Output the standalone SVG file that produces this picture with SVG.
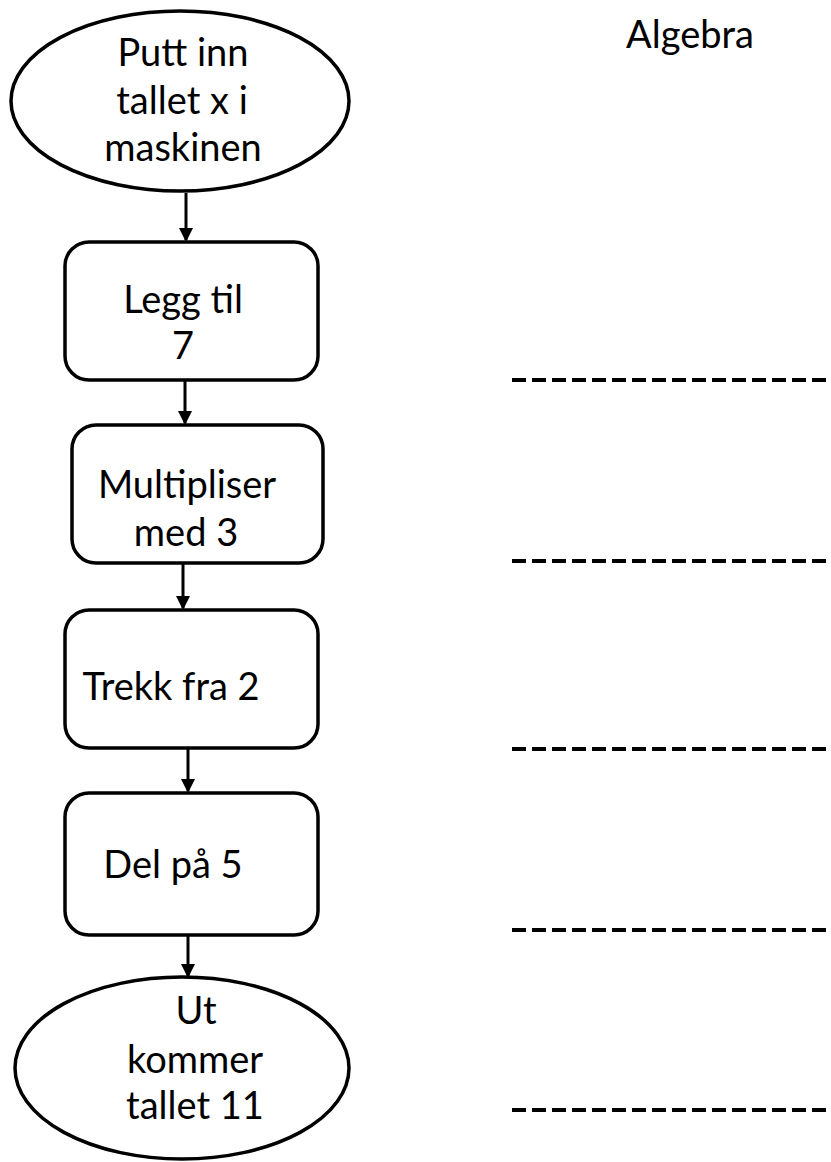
<svg xmlns="http://www.w3.org/2000/svg" width="831" height="1162" viewBox="0 0 831 1162">
<style>
.shape{fill:#fff;stroke:#000;stroke-width:3.5}
.t{font-family:Lato,"Liberation Sans",sans-serif;font-size:38px;fill:#000;text-anchor:middle}
.conn{stroke:#000;stroke-width:3;fill:none}
.dash{stroke:#000;stroke-width:4;stroke-dasharray:14 6;fill:none}
</style>
<defs>
<marker id="ah" markerWidth="14" markerHeight="14" refX="12" refY="7" orient="auto" markerUnits="userSpaceOnUse">
<path d="M0,0 L14,7 L0,14 Z" fill="#000"/>
</marker>
</defs>
<rect width="831" height="1162" fill="#fff"/>
<g id="connectors">
<line class="conn" x1="186" y1="193" x2="186" y2="240" marker-end="url(#ah)"/>
<line class="conn" x1="185" y1="381" x2="185" y2="423" marker-end="url(#ah)"/>
<line class="conn" x1="183" y1="564" x2="183" y2="608" marker-end="url(#ah)"/>
<line class="conn" x1="188" y1="749" x2="188" y2="791" marker-end="url(#ah)"/>
<line class="conn" x1="188" y1="936" x2="188" y2="976" marker-end="url(#ah)"/>
</g>
<g id="start">
<ellipse class="shape" cx="180" cy="101" rx="169" ry="90"/>
<text class="t" x="183" y="66">Putt inn</text>
<text class="t" x="182" y="114">tallet x i</text>
<text class="t" x="183" y="161">maskinen</text>
</g>
<g id="step1">
<rect class="shape" x="65" y="242" width="253" height="138" rx="24"/>
<text class="t" x="183" y="313">Legg til</text>
<text class="t" x="183" y="359">7</text>
</g>
<g id="step2">
<rect class="shape" x="72" y="425" width="251" height="138" rx="24"/>
<text class="t" x="187" y="498">Multipliser</text>
<text class="t" x="186" y="546">med 3</text>
</g>
<g id="step3">
<rect class="shape" x="65" y="610" width="253" height="138" rx="24"/>
<text class="t" x="171" y="700">Trekk fra 2</text>
</g>
<g id="step4">
<rect class="shape" x="65" y="793" width="253" height="142" rx="24"/>
<text class="t" x="173" y="878">Del på 5</text>
</g>
<g id="end">
<ellipse class="shape" cx="182" cy="1068" rx="167" ry="91"/>
<text class="t" x="196" y="1024">Ut</text>
<text class="t" x="195" y="1073">kommer</text>
<text class="t" x="195" y="1119">tallet 11</text>
</g>
<g id="algebra">
<text class="t" x="690" y="48">Algebra</text>
<line class="dash" x1="512" y1="380" x2="831" y2="380"/>
<line class="dash" x1="512" y1="561" x2="831" y2="561"/>
<line class="dash" x1="512" y1="749" x2="831" y2="749"/>
<line class="dash" x1="512" y1="930" x2="831" y2="930"/>
<line class="dash" x1="512" y1="1110" x2="831" y2="1110"/>
</g>
</svg>
